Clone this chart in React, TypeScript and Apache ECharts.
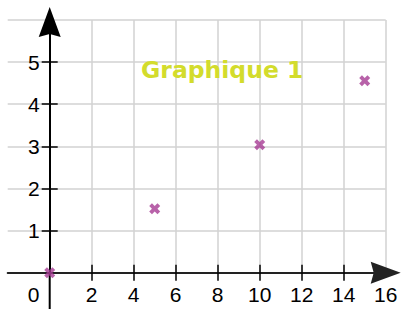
import React, { useEffect, useRef } from "react";
import * as echarts from "echarts";

const titleText = "Graphique 1";
const xValues = [0, 5, 10, 15];
const yValues = [0, 1.52, 3.04, 4.56];
const xTickValues = [2, 4, 6, 8, 10, 12, 14];
const xLabelValues = [0, 2, 4, 6, 8, 10, 12, 14, 16];
const yTickValues = [1, 2, 3, 4, 5];
const yLabelValues = [1, 2, 3, 4, 5];

const X_MIN = -2;
const X_MAX = 16;
const GRID_LEFT = 7.7;
const GRID_WIDTH = 378;

const ARROW = "path://M11,0 L22,30 L11,27 L0,30 Z";
const CROSS = "path://M0,3 L3,0 L6,3 L9,0 L12,3 L9,6 L12,9 L9,12 L6,9 L3,12 L0,9 L3,6 Z";

export default function App() {
  const ref = useRef<HTMLDivElement>(null);
  useEffect(() => {
    if (!ref.current) return;
    const chart = echarts.init(ref.current, null, { renderer: "svg" });
    const labelFont = { fontFamily: "Liberation Sans", fontSize: 21, color: "#000" };
    // y axes sit at x = 0: shift them right from the grid's left edge
    const yOffset = -((0 - X_MIN) * GRID_WIDTH) / (X_MAX - X_MIN);
    const tickAxisX = (inside: boolean) => ({
      type: "value",
      min: X_MIN,
      max: X_MAX,
      position: "bottom",
      axisLine: { show: false, onZero: false },
      axisTick: { show: true, inside, length: 8, customValues: xTickValues, lineStyle: { color: "#000", width: 1.5 } },
      axisLabel: { show: false },
      splitLine: { show: false },
    });
    const tickAxisY = (inside: boolean) => ({
      type: "value",
      min: 0,
      max: 6,
      position: "left",
      offset: yOffset,
      axisLine: { show: false, onZero: false },
      axisTick: { show: true, inside, length: 8, customValues: yTickValues, lineStyle: { color: "#000", width: 1.5 } },
      axisLabel: { show: false },
      splitLine: { show: false },
    });
    chart.setOption({
      animation: false,
      backgroundColor: "#fff",
      title: {
        text: titleText,
        left: 136,
        top: 53,
        textStyle: { fontFamily: "DejaVu Sans", fontWeight: "bold", fontSize: 23.5, color: "#d3dc2c" },
      },
      grid: { left: GRID_LEFT, top: 20, width: GRID_WIDTH, height: 252.7, containLabel: false, outerBoundsMode: "none" },
      xAxis: [
        {
          type: "value",
          min: X_MIN,
          max: X_MAX,
          interval: 2,
          position: "bottom",
          axisLine: {
            show: true,
            onZero: false,
            symbol: ["none", ARROW],
            symbolSize: [23, 30],
            symbolOffset: [0, 0],
            lineStyle: { color: "#222", width: 2 },
          },
          axisTick: { show: false },
          axisLabel: {
            show: true,
            margin: 11,
            customValues: xLabelValues,
            ...labelFont,
            formatter: (v: number) => (v === 0 ? "{z|0}" : String(v)),
            rich: { z: { ...labelFont, padding: [0, 32, 0, 0] } },
          },
          splitLine: { show: true, showMinLine: false, lineStyle: { color: "#d2d2d2", width: 1.5 } },
        },
        tickAxisX(false),
        tickAxisX(true),
      ],
      yAxis: [
        {
          type: "value",
          min: 0,
          max: 6,
          interval: 1,
          position: "left",
          offset: yOffset,
          axisLine: {
            show: true,
            onZero: false,
            symbol: ["none", ARROW],
            symbolSize: [23, 30],
            symbolOffset: [0, -2],
            lineStyle: { color: "#000", width: 2 },
          },
          axisTick: { show: false },
          axisLabel: { show: true, margin: 10, customValues: yLabelValues, ...labelFont },
          splitLine: { show: true, lineStyle: { color: "#d2d2d2", width: 1.5 } },
        },
        tickAxisY(false),
        tickAxisY(true),
      ],
      series: [
        {
          type: "scatter",
          xAxisIndex: 0,
          yAxisIndex: 0,
          symbol: CROSS,
          symbolSize: 11,
          itemStyle: { color: "#a63b93" },
          data: xValues.map((x, i) => [x, yValues[i]]),
          z: 10,
        },
      ],
    });
    const p = chart.convertToPixel({ xAxisIndex: 0, yAxisIndex: 0 }, [0, 0]) as number[];
    chart.setOption({
      graphic: [
        {
          type: "line",
          z: 0,
          shape: { x1: p[0], y1: p[1], x2: p[0], y2: 309 },
          style: { stroke: "#000", lineWidth: 2 },
        },
      ],
    });
    return () => chart.dispose();
  }, []);
  return (
    <div
      ref={ref}
      style={{ position: "fixed", left: 0, top: 0, width: 403, height: 309 }}
    />
  );
}
